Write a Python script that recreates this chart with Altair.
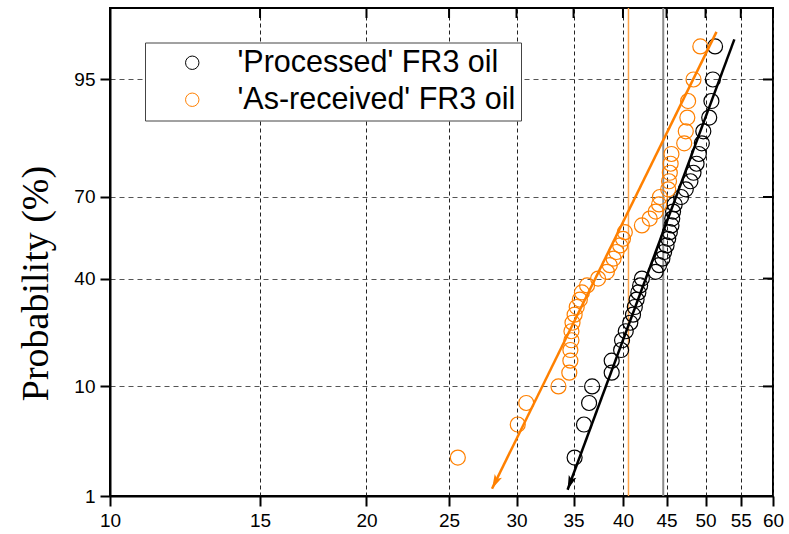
import altair as alt
import pandas as pd
from math import log, atan2, degrees
from statistics import NormalDist

# Cumulative failure probability (%) assigned to each ranked breakdown voltage
cum_prob = [2.5, 5.0, 7.5, 10.0, 12.5, 15.0, 17.5, 20.0, 22.5, 25.0,
            27.5, 30.0, 32.5, 35.0, 37.5, 40.0, 42.5, 45.0, 47.5, 50.0,
            52.5, 55.0, 57.5, 60.0, 62.5, 65.0, 67.5, 70.0, 72.5, 75.0,
            77.5, 80.0, 82.5, 85.0, 87.5, 90.0, 92.5, 95.0, 97.5]

# Ranked breakdown voltages (kV)
processed_kv = [35.1, 36.0, 36.5, 36.8, 38.8, 38.8, 39.8, 39.9, 40.3, 40.8,
                41.1, 41.3, 41.5, 41.7, 41.9, 42.1, 43.7, 44.1, 44.5, 44.7,
                45.0, 45.2, 45.4, 45.6, 45.7, 45.8, 46.0, 46.8, 47.4, 48.0,
                48.4, 48.8, 49.1, 49.5, 49.7, 50.5, 50.8, 51.0, 51.3]
as_received_kv = [25.6, 30.1, 30.8, 33.6, 34.6, 34.7, 34.7, 34.8, 34.8, 34.9,
                  35.1, 35.3, 35.6, 35.8, 36.3, 37.4, 38.3, 38.6, 39.0, 39.3,
                  39.7, 40.0, 40.2, 42.1, 43.0, 43.7, 44.1, 44.2, 45.2, 45.3,
                  45.4, 45.5, 45.6, 47.2, 47.4, 47.6, 47.7, 48.4, 49.3]

series_names = ["'Processed' FR3 oil", "'As-received' FR3 oil"]
series_colors = ["#000000", "#ff8000"]

# Fitted distribution lines: (kV, %) at the lower (arrow) end and the upper end
fit_kv = {"'Processed' FR3 oil": [34.44, 54.05], "'As-received' FR3 oil": [28.08, 51.5]}
fit_prob = {"'Processed' FR3 oil": [1.17, 97.87], "'As-received' FR3 oil": [1.20, 98.21]}

# Vertical reference lines (kV)
ref_kv = [40.6, 44.6]
ref_colors = ["#ffa44a", "#8a8a8a"]
ref_widths = [1.5, 2.0]

x_ticks = [10, 15, 20, 25, 30, 35, 40, 45, 50, 55, 60]
y_ticks_pct = [1, 10, 40, 70, 95]

W, H = 663, 488
TICK = 10
nd = NormalDist()
zmin, zmax = nd.inv_cdf(0.01), nd.inv_cdf(0.99)
y_tick_z = [nd.inv_cdf(p / 100) for p in y_ticks_pct]


def to_px(kv, pct):
    x = W * log(kv / 10) / log(6)
    y = H * (zmax - nd.inv_cdf(pct / 100)) / (zmax - zmin)
    return x, y


pts = pd.DataFrame({
    "kv": processed_kv + as_received_kv,
    "p": cum_prob + cum_prob,
    "series": [series_names[0]] * len(processed_kv) + [series_names[1]] * len(as_received_kv),
})

fit_rows, arrow_rows = [], []
for name, col in zip(series_names, series_colors):
    kvs, ps = fit_kv[name], fit_prob[name]
    for k, p in zip(kvs, ps):
        fit_rows.append({"kv": k, "p": p, "series": name, "col": col})
    x0, y0 = to_px(kvs[0], ps[0])
    x1, y1 = to_px(kvs[1], ps[1])
    ang = degrees(atan2(x1 - x0, y0 - y1))
    arrow_rows.append({"kv": kvs[0], "p": ps[0], "col": col, "ang": ang})
fit_df = pd.DataFrame(fit_rows)
arrow_df = pd.DataFrame(arrow_rows)
ref_df = pd.DataFrame({"kv": ref_kv, "col": ref_colors, "w": ref_widths})
xtick_df = pd.DataFrame({"kv": x_ticks})
ytick_df = pd.DataFrame({"z": y_tick_z})

x_scale = alt.Scale(type="log", domain=[10, 60], nice=False)
y_scale = alt.Scale(domain=[zmin, zmax], nice=False, zero=False)
zcalc = "quantileNormal(datum.p / 100)"
label_font = "Liberation Sans"

bottom_axis = alt.Axis(values=x_ticks, format="d", title=None, grid=True,
                       gridColor="#222222", gridDash=[4, 3], gridWidth=1,
                       domain=True, domainColor="black", domainWidth=2,
                       ticks=True, tickSize=TICK, tickColor="black", tickWidth=2,
                       labelFont=label_font, labelFontSize=19, labelColor="black",
                       labelPadding=5, labelFlush=False, labelOverlap=False)
left_axis = alt.Axis(values=y_tick_z, title="Probability (%)", grid=True,
                     gridColor="#555555", gridDash=[5, 4], gridWidth=1.2,
                     domain=True, domainColor="black", domainWidth=2,
                     ticks=True, tickSize=TICK, tickColor="black", tickWidth=2,
                     labelExpr="format(cumulativeNormal(datum.value) * 100, '.0f')",
                     labelFont=label_font, labelFontSize=19, labelColor="black",
                     labelPadding=5, labelFlush=False, labelOverlap=False,
                     titleFont="Liberation Serif", titleFontSize=38,
                     titleFontWeight="normal", titleColor="black",
                     titleBaseline="alphabetic", titleX=-63, titleY=275)

refs = alt.Chart(ref_df).mark_rule().encode(
    x=alt.X("kv:Q", scale=x_scale, axis=bottom_axis),
    color=alt.Color("col:N", scale=None),
    strokeWidth=alt.StrokeWidth("w:Q", scale=None),
)

# inward ticks along the top and right edges of the frame
top_ticks = alt.Chart(xtick_df).mark_rule(color="black", strokeWidth=2).encode(
    x=alt.X("kv:Q", scale=x_scale, axis=None),
    y=alt.value(0), y2=alt.value(TICK),
)
right_ticks = alt.Chart(ytick_df).mark_rule(color="black", strokeWidth=2).encode(
    y=alt.Y("z:Q", scale=y_scale, axis=None),
    x=alt.value(W - TICK), x2=alt.value(W),
)

points = alt.Chart(pts).transform_calculate(z=zcalc).mark_point(
    shape="circle", filled=False, size=225, strokeWidth=1.2, opacity=1
).encode(
    x=alt.X("kv:Q", scale=x_scale, axis=None),
    y=alt.Y("z:Q", scale=y_scale, axis=left_axis),
    color=alt.Color("series:N",
                    scale=alt.Scale(domain=series_names, range=series_colors),
                    legend=alt.Legend(orient="none", legendX=35, legendY=34.5,
                                      title=None, fillColor="white",
                                      strokeColor="#444444",
                                      padding=5, rowPadding=6,
                                      symbolType="circle", symbolSize=180,
                                      symbolStrokeWidth=1, symbolOffset=27,
                                      labelOffset=30, labelFont=label_font,
                                      labelFontSize=30.5, labelColor="black",
                                      labelLimit=0)),
)

fits = alt.Chart(fit_df).transform_calculate(z=zcalc).mark_line(strokeWidth=2.5).encode(
    x=alt.X("kv:Q", scale=x_scale, axis=None),
    y=alt.Y("z:Q", scale=y_scale, axis=None),
    detail="series:N",
    color=alt.Color("col:N", scale=None),
)

arrow_path = "M0,0L-0.45,-1.6L0,-1.25L0.45,-1.6Z"
arrows = alt.Chart(arrow_df).transform_calculate(z=zcalc).mark_point(
    shape=arrow_path, filled=True, size=320, opacity=1, strokeWidth=0
).encode(
    x=alt.X("kv:Q", scale=x_scale, axis=None),
    y=alt.Y("z:Q", scale=y_scale, axis=None),
    color=alt.Color("col:N", scale=None),
    angle=alt.Angle("ang:Q", scale=None),
)

chart = alt.layer(refs, top_ticks, right_ticks, points, fits, arrows).resolve_axis(
    x="independent", y="independent"
).properties(
    width=W, height=H,
    autosize=alt.AutoSizeParams(type="none"),
    padding={"left": 110, "top": 8, "right": 16, "bottom": 38},
    background="white",
).configure_view(stroke="black", strokeWidth=2)

chart.save("out.html", embed_options={"renderer": "svg", "actions": False})
